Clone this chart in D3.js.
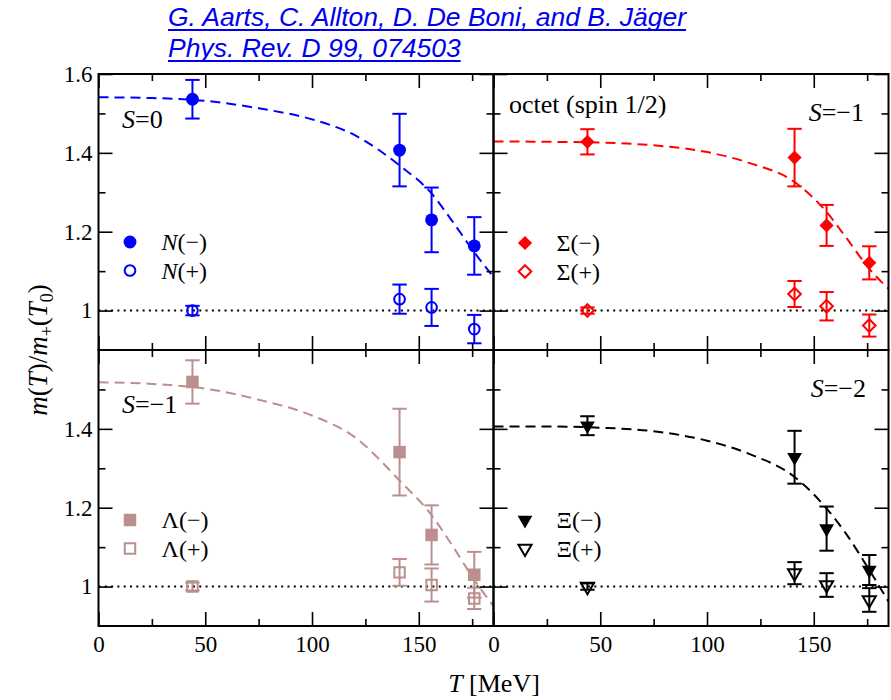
<!DOCTYPE html>
<html>
<head>
<meta charset="utf-8">
<script src="https://cdn.jsdelivr.net/npm/d3@7"></script>
<style>
  body { margin: 0; background: #fff; }
  svg { display: block; }
</style>
</head>
<body>
<svg id="chart" width="891" height="700"></svg>
<script>
// Lattice temperatures (MeV)
const temps = [44, 141, 156, 176];

// Nucleon, S=0
const nMinus    = [1.536, 1.407, 1.230, 1.164];
const nMinusErr = [0.049, 0.092, 0.082, 0.073];
const nPlus     = [1.000, 1.029, 1.008, 0.953];
const nPlusErr  = [0.012, 0.037, 0.047, 0.036];

// Sigma, S=-1
const sigMinus    = [1.428, 1.388, 1.216, 1.121];
const sigMinusErr = [0.032, 0.073, 0.052, 0.042];
const sigPlus     = [1.000, 1.042, 1.011, 0.962];
const sigPlusErr  = [0.008, 0.033, 0.036, 0.028];

// Lambda, S=-1
const lamMinus    = [1.519, 1.341, 1.131, 1.030];
const lamMinusErr = [0.055, 0.110, 0.075, 0.058];
const lamPlus     = [1.000, 1.036, 1.004, 0.970];
const lamPlusErr  = [0.010, 0.034, 0.042, 0.027];

// Xi, S=-2
const xiMinus    = [1.408, 1.328, 1.147, 1.042];
const xiMinusErr = [0.024, 0.067, 0.056, 0.038];
const xiPlus     = [1.000, 1.034, 1.004, 0.966];
const xiPlusErr  = [0.008, 0.028, 0.030, 0.030];

// Dashed guide curves for the negative-parity masses
const curveT   = [0, 25, 50, 75, 100, 120, 141, 156, 165, 176, 185];
const nCurve   = [1.541, 1.539, 1.532, 1.513, 1.485, 1.445, 1.368, 1.297, 1.232, 1.148, 1.085];
const sigCurve = [1.429, 1.428, 1.426, 1.419, 1.402, 1.374, 1.326, 1.250, 1.186, 1.106, 1.055];
const lamCurve = [1.518, 1.514, 1.502, 1.474, 1.434, 1.379, 1.269, 1.181, 1.110, 1.017, 0.950];
const xiCurve  = [1.406, 1.406, 1.403, 1.394, 1.370, 1.336, 1.278, 1.198, 1.135, 1.042, 0.962];

// Axis ticks
const xMajor = [0, 50, 100, 150];
const xMinor = [25, 75, 125, 175];
const yMajorTop = [1, 1.2, 1.4, 1.6];
const yMajorBottom = [1, 1.2, 1.4];
const yMinor = [1.1, 1.3, 1.5];

const svg = d3.select("#chart");
const serif = "'Liberation Serif', 'Times New Roman', serif";

// custom marker shapes
const symDiamond = { draw(ctx, size) { const r = Math.sqrt(size / 2);
  ctx.moveTo(0, -r); ctx.lineTo(r, 0); ctx.lineTo(0, r); ctx.lineTo(-r, 0); ctx.closePath(); } };
const symTriDown = { draw(ctx, size) { const w = Math.sqrt(2 * size / 0.87), h = 0.87 * w;
  ctx.moveTo(-w / 2, -h / 3); ctx.lineTo(w / 2, -h / 3); ctx.lineTo(0, 2 * h / 3); ctx.closePath(); } };

const zip = (vals, errs) => temps.map((t, i) => ({ t, v: vals[i], e: errs[i] }));

const panels = [
  { x0: 98.5, x1: 493.5, y0: 74, y1: 350, color: "#0000ff", name: "N", italic: true,
    minus: zip(nMinus, nMinusErr), plus: zip(nPlus, nPlusErr), curve: nCurve,
    sym: d3.symbolCircle, symSize: 130, symSizeOpen: 90,
    yTicks: yMajorTop, yLabels: true, xLabels: false, legX: 130, legY: 242 },
  { x0: 493.5, x1: 888.5, y0: 74, y1: 350, color: "#ff0000", name: "Σ", italic: false,
    minus: zip(sigMinus, sigMinusErr), plus: zip(sigPlus, sigPlusErr), curve: sigCurve,
    sym: symDiamond, symSize: 100, symSizeOpen: 80,
    yTicks: yMajorTop, yLabels: false, xLabels: false, legX: 525, legY: 243 },
  { x0: 98.5, x1: 493.5, y0: 350, y1: 626, color: "#bc8f8f", name: "Λ", italic: false,
    minus: zip(lamMinus, lamMinusErr), plus: zip(lamPlus, lamPlusErr), curve: lamCurve,
    sym: d3.symbolSquare, symSize: 156, symSizeOpen: 110,
    yTicks: yMajorBottom, yLabels: true, xLabels: true, legX: 130, legY: 520 },
  { x0: 493.5, x1: 888.5, y0: 350, y1: 626, color: "#000000", name: "Ξ", italic: false,
    minus: zip(xiMinus, xiMinusErr), plus: zip(xiPlus, xiPlusErr), curve: xiCurve,
    sym: symTriDown, symSize: 95, symSizeOpen: 75,
    yTicks: yMajorBottom, yLabels: false, xLabels: true, legX: 525, legY: 520 }
];

function styleAxis(g) {
  g.select(".domain").remove();
  g.selectAll(".tick line").attr("stroke", "#000").attr("stroke-width", 1.6);
  g.selectAll("text").attr("font-family", serif).attr("font-size", 23).attr("fill", "#000");
}

panels.forEach((p, k) => {
  const x = d3.scaleLinear().domain([0, 185]).range([p.x0, p.x1]);
  const y = d3.scaleLinear().domain([0.9, 1.6]).range([p.y1, p.y0]);
  const g = svg.append("g");

  // clip for the guide curve
  const clipId = "panel-clip-" + k;
  svg.append("clipPath").attr("id", clipId)
    .append("rect").attr("x", p.x0).attr("y", p.y0).attr("width", p.x1 - p.x0).attr("height", p.y1 - p.y0);

  // dotted reference line at 1
  g.append("line").attr("x1", p.x0).attr("x2", p.x1).attr("y1", y(1)).attr("y2", y(1))
    .attr("stroke", "#000").attr("stroke-width", 2).attr("stroke-dasharray", "2,4.3");

  // dashed guide curve
  const line = d3.line().x((d, i) => x(curveT[i])).y(d => y(d)).curve(d3.curveMonotoneX);
  g.append("path").datum(p.curve).attr("d", line)
    .attr("clip-path", "url(#" + clipId + ")")
    .attr("fill", "none").attr("stroke", p.color).attr("stroke-width", 2).attr("stroke-dasharray", "10,6");

  // error bars
  const cap = 7.2;
  [p.plus, p.minus].forEach(series => {
    const eb = g.append("g").attr("stroke", p.color).attr("stroke-width", 2).attr("fill", "none");
    series.forEach(d => {
      eb.append("line").attr("x1", x(d.t)).attr("x2", x(d.t)).attr("y1", y(d.v - d.e)).attr("y2", y(d.v + d.e));
      eb.append("line").attr("x1", x(d.t) - cap).attr("x2", x(d.t) + cap).attr("y1", y(d.v - d.e)).attr("y2", y(d.v - d.e));
      eb.append("line").attr("x1", x(d.t) - cap).attr("x2", x(d.t) + cap).attr("y1", y(d.v + d.e)).attr("y2", y(d.v + d.e));
    });
  });

  // markers
  const symFilled = d3.symbol().type(p.sym).size(p.symSize);
  const symOpen = d3.symbol().type(p.sym).size(p.symSizeOpen);
  g.append("g").selectAll("path").data(p.plus).join("path")
    .attr("transform", d => `translate(${x(d.t)},${y(d.v)})`).attr("d", symOpen)
    .attr("fill", "none").attr("stroke", p.color).attr("stroke-width", 2);
  g.append("g").selectAll("path").data(p.minus).join("path")
    .attr("transform", d => `translate(${x(d.t)},${y(d.v)})`).attr("d", symFilled)
    .attr("fill", p.color);

  // legend
  const leg = g.append("g");
  leg.append("path").attr("transform", `translate(${p.legX},${p.legY})`).attr("d", symFilled).attr("fill", p.color);
  leg.append("path").attr("transform", `translate(${p.legX},${p.legY + 28.5})`).attr("d", symOpen)
    .attr("fill", "none").attr("stroke", p.color).attr("stroke-width", 2);
  ["−", "+"].forEach((s, i) => {
    const t = leg.append("text").attr("x", p.legX + 31.5).attr("y", p.legY + 8 + i * 28.5)
      .attr("font-family", serif).attr("font-size", 24).attr("fill", "#000");
    t.append("tspan").attr("font-style", p.italic ? "italic" : "normal").text(p.name);
    t.append("tspan").text("(" + s + ")");
  });

  // ticks: bottom / top / left / right, all pointing inward
  const major = 14, minor = 7;
  g.append("g").attr("transform", `translate(0,${p.y1})`)
    .call(d3.axisBottom(x).tickValues(xMajor).tickSize(-major).tickPadding(10)
      .tickFormat(p.xLabels ? d3.format("d") : () => "")).call(styleAxis);
  g.append("g").attr("transform", `translate(0,${p.y1})`)
    .call(d3.axisBottom(x).tickValues(xMinor).tickSize(-minor).tickFormat(() => "")).call(styleAxis);
  g.append("g").attr("transform", `translate(0,${p.y0})`)
    .call(d3.axisTop(x).tickValues(xMajor).tickSize(-major).tickFormat(() => "")).call(styleAxis);
  g.append("g").attr("transform", `translate(0,${p.y0})`)
    .call(d3.axisTop(x).tickValues(xMinor).tickSize(-minor).tickFormat(() => "")).call(styleAxis);
  g.append("g").attr("transform", `translate(${p.x0},0)`)
    .call(d3.axisLeft(y).tickValues(p.yTicks).tickSize(-major).tickPadding(6)
      .tickFormat(p.yLabels ? (v => v === 1 ? "1" : d3.format(".1f")(v)) : () => "")).call(styleAxis);
  g.append("g").attr("transform", `translate(${p.x0},0)`)
    .call(d3.axisLeft(y).tickValues(yMinor).tickSize(-minor).tickFormat(() => "")).call(styleAxis);
  g.append("g").attr("transform", `translate(${p.x1},0)`)
    .call(d3.axisRight(y).tickValues(p.yTicks).tickSize(-major).tickFormat(() => "")).call(styleAxis);
  g.append("g").attr("transform", `translate(${p.x1},0)`)
    .call(d3.axisRight(y).tickValues(yMinor).tickSize(-minor).tickFormat(() => "")).call(styleAxis);

  // frame
  g.append("rect").attr("x", p.x0).attr("y", p.y0).attr("width", p.x1 - p.x0).attr("height", p.y1 - p.y0)
    .attr("fill", "none").attr("stroke", "#000").attr("stroke-width", 2);
});

// panel labels
function sLabel(xp, yp, val, anchor) {
  const t = svg.append("text").attr("x", xp).attr("y", yp).attr("text-anchor", anchor)
    .attr("font-family", serif).attr("font-size", 26).attr("fill", "#000");
  t.append("tspan").attr("font-style", "italic").text("S");
  t.append("tspan").text("=" + val);
}
sLabel(122, 128, "0", "start");
sLabel(864, 121, "−1", "end");
sLabel(122, 413, "−1", "start");
sLabel(866, 397, "−2", "end");
svg.append("text").attr("x", 509).attr("y", 113).attr("font-family", serif).attr("font-size", 26)
  .attr("fill", "#000").text("octet (spin 1/2)");

// axis titles
const xt = svg.append("text").attr("x", 494).attr("y", 692).attr("text-anchor", "middle")
  .attr("font-family", serif).attr("font-size", 26).attr("fill", "#000");
xt.append("tspan").attr("font-style", "italic").text("T");
xt.append("tspan").text(" [MeV]");

const yt = svg.append("text").attr("transform", "translate(47,350) rotate(-90)").attr("text-anchor", "middle")
  .attr("font-family", serif).attr("font-size", 27).attr("fill", "#000");
yt.append("tspan").attr("font-style", "italic").text("m");
yt.append("tspan").text("(");
yt.append("tspan").attr("font-style", "italic").text("T");
yt.append("tspan").text(")/");
yt.append("tspan").attr("font-style", "italic").text("m");
yt.append("tspan").attr("font-size", 18).attr("dy", 6).text("+");
yt.append("tspan").attr("dy", -6).text("(");
yt.append("tspan").attr("font-style", "italic").text("T");
yt.append("tspan").attr("font-size", 18).attr("dy", 6).text("0");
yt.append("tspan").attr("dy", -6).text(")");

// reference lines, blue and underlined
const refLines = ["G. Aarts, C. Allton, D. De Boni, and B. Jäger", "Phys. Rev. D 99, 074503"];
refLines.forEach((s, i) => {
  const yb = 26 + i * 31;
  const t = svg.append("text").attr("x", 168).attr("y", yb)
    .attr("font-family", "'Liberation Sans', Arial, sans-serif").attr("font-style", "italic")
    .attr("font-size", 26.5).attr("fill", "#0000ee").text(s);
  const w = t.node().getComputedTextLength();
  svg.append("line").attr("x1", 168).attr("x2", 168 + w).attr("y1", yb + 4).attr("y2", yb + 4)
    .attr("stroke", "#0000ee").attr("stroke-width", 2);
});
</script>
</body>
</html>
